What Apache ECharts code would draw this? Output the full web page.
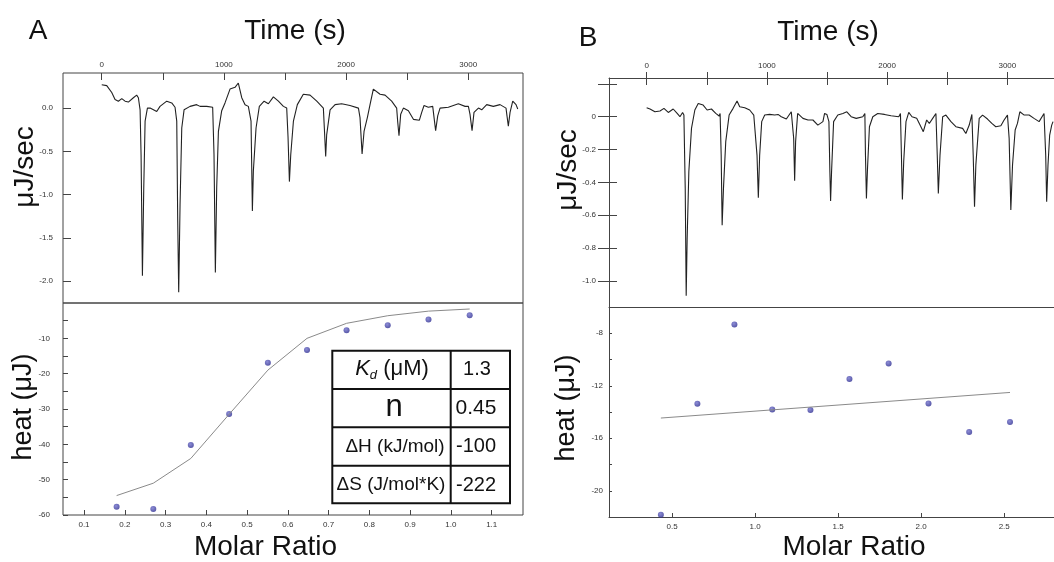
<!DOCTYPE html>
<html><head><meta charset="utf-8">
<script src="https://cdn.jsdelivr.net/npm/echarts@6/dist/echarts.min.js"></script>
<style>html,body{margin:0;padding:0;background:#fff}#c{width:1054px;height:562px}</style>
</head><body><div id="c"></div>
<script>
// ---------- Panel A : raw titration (time vs power) ----------
const timeA = [0,41,82,109,136,164,191,218,259,286,300,314,322,333,344,355,374,396,450,477,532,573,600,614,622,630,641,655,674,723,777,805,859,908,919,930,941,955,982,1009,1050,1091,1118,1132,1146,1173,1200,1214,1222,1233,1241,1263,1290,1329,1364,1405,1446,1487,1514,1525,1536,1547,1569,1601,1650,1705,1760,1814,1822,1833,1841,1869,1910,1964,2032,2101,2114,2131,2147,2174,2196,2223,2278,2319,2373,2414,2422,2433,2447,2469,2510,2551,2600,2619,2638,2673,2709,2720,2733,2750,2769,2837,2919,2974,3001,3014,3031,3047,3083,3110,3151,3205,3260,3309,3317,3328,3342,3364,3391,3405];
const powerA = [0.27,0.26,0.18,0.10,0.08,0.11,0.08,0.07,0.12,0.15,0.12,-0.02,-0.54,-1.94,-0.92,-0.15,0.00,0.00,-0.04,0.02,0.08,0.06,0.01,-0.15,-1.31,-2.13,-1.12,-0.23,-0.02,0.02,0.04,0.02,0.02,0.01,-0.54,-1.90,-0.92,-0.27,-0.03,0.06,0.22,0.24,0.29,0.27,0.12,0.04,0.02,0.03,-0.15,-1.19,-0.73,-0.23,0.02,0.08,0.05,0.13,0.08,0.02,0.00,-0.34,-0.85,-0.54,-0.15,0.04,0.16,0.15,0.08,0.00,-0.23,-0.56,-0.31,-0.02,0.04,0.05,0.03,0.00,-0.11,-0.53,-0.27,-0.11,0.04,0.22,0.16,0.15,0.08,0.00,-0.15,-0.32,-0.07,0.00,-0.03,-0.13,-0.14,-0.05,0.03,0.01,0.02,-0.11,-0.26,-0.09,0.00,0.01,0.05,0.02,0.02,-0.07,-0.26,-0.05,0.00,-0.02,0.04,0.02,0.04,0.00,-0.09,-0.21,-0.05,0.08,0.04,-0.01];
// ---------- Panel A : integrated heats ----------
const molarA = [0.180,0.270,0.362,0.456,0.551,0.647,0.744,0.845,0.945,1.046];
const heatA  = [-57.7,-58.3,-40.2,-31.4,-16.9,-13.3,-7.7,-6.3,-4.7,-3.5];
const fitA   = [-54.5,-51.0,-44.0,-31.5,-19.0,-10.0,-5.75,-3.6,-2.3,-1.7];
// ---------- Panel B : raw titration ----------
const timeB = [0,28,69,111,144,180,221,254,277,299,310,321,329,337,351,373,401,429,470,503,539,575,603,611,620,628,639,658,686,719,752,774,816,857,891,907,918,929,940,957,982,1023,1065,1093,1120,1162,1203,1217,1223,1231,1239,1256,1272,1300,1342,1383,1424,1466,1480,1499,1516,1524,1530,1538,1555,1590,1632,1665,1701,1743,1798,1815,1820,1828,1837,1853,1881,1922,1978,2033,2097,2111,2119,2127,2138,2157,2180,2207,2246,2274,2301,2329,2351,2379,2406,2417,2426,2440,2462,2489,2531,2572,2628,2655,2683,2705,2716,2727,2738,2766,2794,2835,2871,2904,2946,2973,3001,3015,3029,3043,3065,3084,3104,3140,3181,3222,3264,3305,3319,3327,3338,3352,3369,3380];
const powerB = [0.055,0.047,0.030,0.035,0.051,0.026,0.047,0.020,0.000,0.026,0.010,-0.437,-1.092,-0.742,-0.335,-0.071,0.041,0.081,0.071,0.041,0.047,0.020,0.004,0.020,-0.234,-0.661,-0.437,-0.152,0.010,0.051,0.096,0.061,0.055,0.041,0.010,0.000,-0.234,-0.494,-0.234,-0.030,0.010,0.014,0.010,0.014,0.000,-0.014,0.030,0.035,-0.132,-0.390,-0.152,0.020,0.026,-0.010,-0.020,-0.020,-0.051,-0.030,0.020,0.014,-0.030,-0.335,-0.514,-0.335,-0.030,0.010,0.020,0.030,0.000,-0.010,0.000,0.020,-0.234,-0.498,-0.315,-0.061,0.000,0.020,0.014,0.006,0.000,0.020,-0.234,-0.504,-0.274,-0.030,0.026,0.000,-0.010,-0.051,-0.091,-0.020,-0.041,-0.010,0.020,-0.234,-0.468,-0.234,0.000,0.010,-0.030,-0.061,-0.071,-0.102,-0.051,0.014,-0.234,-0.549,-0.295,-0.010,0.010,-0.014,-0.041,-0.061,-0.055,-0.020,0.010,-0.132,-0.569,-0.295,-0.081,-0.041,0.030,0.010,0.010,-0.010,-0.030,0.020,-0.234,-0.518,-0.295,-0.112,-0.051,-0.030];
// ---------- Panel B : integrated heats ----------
const molarB = [0.432,0.652,0.875,1.103,1.333,1.568,1.804,2.044,2.289,2.535];
const heatB  = [-21.82,-13.37,-7.33,-13.80,-13.85,-11.49,-10.30,-13.35,-15.53,-14.77];
const fitMolarB = [0.432,2.535];
const fitHeatB  = [-14.46,-12.51];
// ---------- tick values ----------
const timeTicks = [0,500,1000,1500,2000,2500,3000];
const timeLabels = [0,1000,2000,3000];
const powerTicksA = [0,-0.5,-1.0,-1.5,-2.0];
const powerTicksB = [0.2,0,-0.2,-0.4,-0.6,-0.8,-1.0];
const powerLabelsB = [0,-0.2,-0.4,-0.6,-0.8,-1.0];
const molarTicksA = [0.1,0.2,0.3,0.4,0.5,0.6,0.7,0.8,0.9,1.0,1.1];
const heatTicksA = [-5,-10,-15,-20,-25,-30,-35,-40,-45,-50,-55,-60];
const heatLabelsA = [-10,-20,-30,-40,-50,-60];
const molarTicksB = [0.5,1.0,1.5,2.0,2.5];
const heatTicksB = [-6,-8,-10,-12,-14,-16,-18,-20,-22];
const heatLabelsB = [-8,-12,-16,-20];
const tableRows = [
  ['Kd (μM)','1.3'],
  ['n','0.45'],
  ['ΔH (kJ/mol)','-100'],
  ['ΔS (J/mol*K)','-222']
];

const FONT = "'Liberation Sans', Arial, sans-serif";
const AX = '#444';
function zip(a,b){return a.map((v,i)=>[v,b[i]]);}
function valAxis(o){
  return {
    type:'value', gridIndex:o.grid, position:o.pos, min:o.min, max:o.max,
    axisLine:{show:!!o.line,onZero:false,lineStyle:{color:AX,width:1}},
    splitLine:{show:false},
    axisTick:{show:!!o.ticks, inside:o.inside, length:o.len, lineStyle:{color:AX,width:1}, customValues:o.ticks||[]},
    axisLabel:{show:!!o.labels, customValues:o.labels||[], margin:o.margin||6, fontSize:8, color:'#333', fontFamily:FONT, formatter:o.fmt}
  };
}
const f1 = v=>Number(v).toFixed(1);
const fB = v=>(Number(v)===0?'0':Number(v).toFixed(1));
const fS = v=>String(v);

function gridBox(l,t,w,h){return {left:l,top:t,width:w,height:h,show:true,borderColor:'#444',borderWidth:1,backgroundColor:'transparent',containLabel:false};}
function gridOpen(l,t,h){return {left:l,top:t,right:-1,height:h,show:false,containLabel:false};}

function txt(x,y,s,size,rot){
  return {type:'text', x:x, y:y, rotation:rot||0, z:100,
    style:{text:s, fontSize:size, fontFamily:FONT, fill:'#111', align:'center', verticalAlign:'middle', textAlign:'center', textVerticalAlign:'middle'}};
}

// table geometry
const TX0=332.3, TX1=450.7, TX2=510, TY=[350.7,389,427.3,465.7,503.3];
const tableEls = [
  {type:'rect', z:100, shape:{x:TX0,y:TY[0],width:TX2-TX0,height:TY[4]-TY[0]}, style:{fill:'#fff',stroke:'#111',lineWidth:2}},
  {type:'line', z:101, shape:{x1:TX1,y1:TY[0],x2:TX1,y2:TY[4]}, style:{stroke:'#111',lineWidth:2}},
  {type:'line', z:101, shape:{x1:TX0,y1:TY[1],x2:TX2,y2:TY[1]}, style:{stroke:'#111',lineWidth:2}},
  {type:'line', z:101, shape:{x1:TX0,y1:TY[2],x2:TX2,y2:TY[2]}, style:{stroke:'#111',lineWidth:2}},
  {type:'line', z:101, shape:{x1:TX0,y1:TY[3],x2:TX2,y2:TY[3]}, style:{stroke:'#111',lineWidth:2}},
  {type:'text', x:392, y:369, z:102, style:{
    text:'{k|K}{s|d}{u| (μM)}', align:'center', verticalAlign:'middle', textAlign:'center', textVerticalAlign:'middle', fill:'#111',
    rich:{k:{fontSize:22,fontStyle:'italic',fontFamily:FONT,fill:'#111',verticalAlign:'middle'},
          s:{fontSize:13,fontStyle:'italic',fontFamily:FONT,fill:'#111',padding:[12,0,0,0],verticalAlign:'middle'},
          u:{fontSize:22,fontFamily:FONT,fill:'#111',verticalAlign:'middle'}}}},
  Object.assign(txt(394,407,tableRows[1][0],31),{z:102}),
  Object.assign(txt(395,446.5,tableRows[2][0],19),{z:102}),
  Object.assign(txt(391,485,tableRows[3][0],19),{z:102}),
  Object.assign(txt(477,369.5,tableRows[0][1],20),{z:102}),
  Object.assign(txt(476,408,tableRows[1][1],21),{z:102}),
  Object.assign(txt(476,446.5,tableRows[2][1],20),{z:102}),
  Object.assign(txt(476,485,tableRows[3][1],20),{z:102})
];

const dotColor = {type:'radial',x:0.4,y:0.35,r:0.7,colorStops:[{offset:0,color:'#7070cc'},{offset:1,color:'#2a2a8e'}]};

const option = {
  animation:false,
  backgroundColor:'#fff',
  grid:[gridBox(63,73,460,230), gridBox(63,303,460,212), gridOpen(609,78,229), gridOpen(609,307,210)],
  xAxis:[
    valAxis({grid:0,pos:'top',min:-317,max:3448,inside:true,len:7,ticks:timeTicks,labels:timeLabels,margin:4,fmt:fS}),
    valAxis({grid:1,pos:'bottom',min:0.0485,max:1.1768,inside:true,len:5,ticks:molarTicksA,labels:molarTicksA,margin:6,fmt:f1}),
    valAxis({grid:2,pos:'top',min:-313,max:3388,inside:false,len:6,ticks:timeTicks,labels:timeLabels,margin:8,fmt:fS,line:true}),
    valAxis({grid:2,pos:'top',min:-313,max:3388,inside:true,len:7,ticks:timeTicks}),
    valAxis({grid:3,pos:'bottom',min:0.1196,max:2.800,inside:true,len:4,ticks:molarTicksB,labels:molarTicksB,margin:6,fmt:f1,line:true}),
    valAxis({grid:2,pos:'bottom',min:-313,max:3388,line:true})
  ],
  yAxis:[
    valAxis({grid:0,pos:'left',min:-2.254,max:0.406,inside:true,len:8,ticks:powerTicksA,labels:powerTicksA,margin:10,fmt:f1}),
    valAxis({grid:1,pos:'left',min:-60,max:0,inside:true,len:5,ticks:heatTicksA,labels:heatLabelsA,margin:13,fmt:fS}),
    valAxis({grid:2,pos:'left',min:-1.160,max:0.236,inside:false,len:11,ticks:powerTicksB,labels:powerLabelsB,margin:13,fmt:fB,line:true}),
    valAxis({grid:2,pos:'left',min:-1.160,max:0.236,inside:true,len:8,ticks:powerTicksB}),
    valAxis({grid:3,pos:'left',min:-22,max:-6,inside:true,len:3,ticks:heatTicksB,labels:heatLabelsB,margin:6,fmt:fS,line:true})
  ],
  series:[
    {type:'line',xAxisIndex:0,yAxisIndex:0,data:zip(timeA,powerA),showSymbol:false,symbol:'none',silent:true,lineStyle:{color:'#222',width:1.1}},
    {type:'line',xAxisIndex:1,yAxisIndex:1,data:zip(molarA,fitA),showSymbol:false,symbol:'none',silent:true,lineStyle:{color:'#8a8a8a',width:1}},
    {type:'scatter',xAxisIndex:1,yAxisIndex:1,data:zip(molarA,heatA),symbol:'circle',symbolSize:6,itemStyle:{color:dotColor}},
    {type:'line',xAxisIndex:2,yAxisIndex:2,data:zip(timeB,powerB),showSymbol:false,symbol:'none',silent:true,lineStyle:{color:'#222',width:1.1}},
    {type:'line',xAxisIndex:4,yAxisIndex:4,data:zip(fitMolarB,fitHeatB),showSymbol:false,symbol:'none',silent:true,lineStyle:{color:'#8a8a8a',width:1}},
    {type:'scatter',xAxisIndex:4,yAxisIndex:4,data:zip(molarB,heatB),symbol:'circle',symbolSize:6,itemStyle:{color:dotColor}}
  ],
  graphic:[
    txt(38,31,'A',28),
    txt(295,31,'Time (s)',28),
    txt(588,38,'B',28),
    txt(828,32,'Time (s)',28),
    txt(25,167,'μJ/sec',28,Math.PI/2),
    txt(24,407,'heat (μJ)',27,Math.PI/2),
    txt(568,170,'μJ/sec',28,Math.PI/2),
    txt(567,408,'heat (μJ)',27,Math.PI/2),
    txt(265.5,547,'Molar Ratio',28),
    txt(854,547,'Molar Ratio',28)
  ].concat(tableEls)
};
const chart = echarts.init(document.getElementById('c'), null, {renderer:'canvas'});
chart.setOption(option);
</script>
</body></html>
